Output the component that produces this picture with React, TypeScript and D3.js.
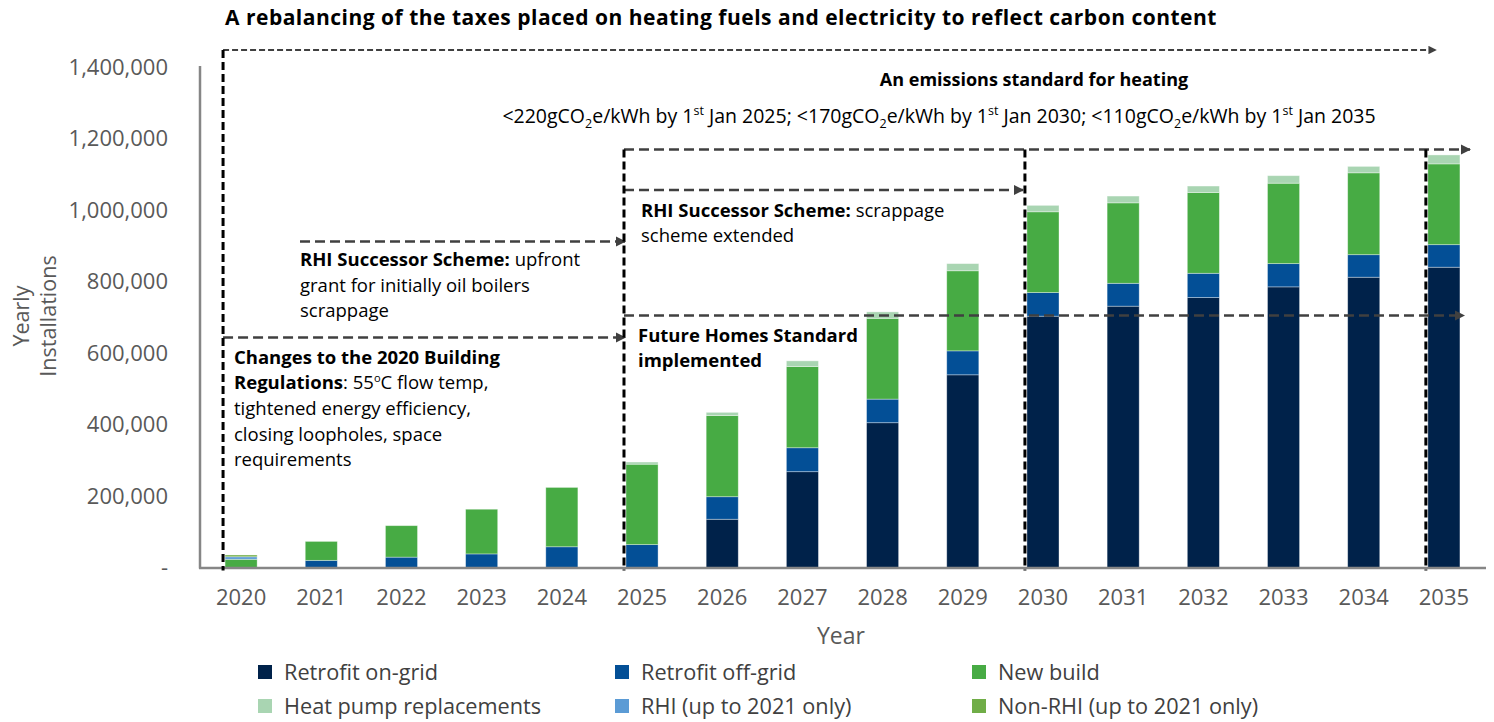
import * as d3 from "d3";
import { useEffect, useRef } from "react";

// data
const years = ["2020", "2021", "2022", "2023", "2024", "2025", "2026", "2027", "2028", "2029", "2030", "2031", "2032", "2033", "2034", "2035"];
const retrofitOnGrid = [0, 0, 0, 0, 0, 0, 135000, 268000, 405000, 539000, 703000, 731000, 755000, 785000, 812000, 840000];
const retrofitOffGrid = [0, 20000, 29000, 38000, 58000, 64000, 63000, 67000, 66000, 67000, 66000, 64000, 68000, 65000, 63000, 63000];
const newBuild = [23000, 53000, 88000, 125000, 166000, 225000, 227000, 227000, 226000, 224000, 226000, 225000, 226000, 225000, 229000, 226000];
const hpReplacements = [0, 0, 0, 0, 0, 6000, 9000, 16000, 18000, 20000, 18000, 19000, 18000, 21000, 18000, 25000];
const rhiOnly = [7000, 0, 0, 0, 0, 0, 0, 0, 0, 0, 0, 0, 0, 0, 0, 0];
const nonRhiOnly = [5000, 0, 0, 0, 0, 0, 0, 0, 0, 0, 0, 0, 0, 0, 0, 0];
const yTicks = [0, 200000, 400000, 600000, 800000, 1000000, 1200000, 1400000];

const seriesNames = ["Retrofit on-grid", "Retrofit off-grid", "New build", "Heat pump replacements", "RHI (up to 2021 only)", "Non-RHI (up to 2021 only)"];
const seriesColors = ["#00224a", "#034f96", "#47ab44", "#a9d5b2", "#5b9bd5", "#70ad47"];

const W = 1494;
const H = 722;
const FONT = "'Open Sans', 'DejaVu Sans', sans-serif";

const App = () => {
  const chartRef = useRef(null);

  useEffect(() => {
    const svg = d3.select(chartRef.current);
    svg.selectAll("*").remove();

    const margin = { top: 67, bottom: 154.5, left: 201, right: 10 };

    const x = d3.scaleBand().domain(years).range([margin.left, 1484]).paddingInner(0.6).paddingOuter(0.3);
    const y = d3.scaleLinear().domain([0, 1400000]).range([H - margin.bottom, margin.top]);

    const rows = years.map((yr, i) => ({
      year: yr,
      s0: retrofitOnGrid[i],
      s1: retrofitOffGrid[i],
      s2: newBuild[i],
      s3: hpReplacements[i],
      s4: rhiOnly[i],
      s5: nonRhiOnly[i],
    }));
    const keys = ["s0", "s1", "s2", "s3", "s4", "s5"];
    const stacked = d3.stack().keys(keys)(rows);

    const defs = svg.append("defs");
    defs.append("marker")
      .attr("id", "arrow")
      .attr("viewBox", "0 0 10 10")
      .attr("refX", 9).attr("refY", 5)
      .attr("markerWidth", 4.2).attr("markerHeight", 4.2)
      .attr("markerUnits", "strokeWidth")
      .attr("orient", "auto")
      .append("path").attr("d", "M0,0L10,5L0,10Z").attr("fill", "#404040");

    // title
    svg.append("text")
      .attr("x", 225).attr("y", 25)
      .attr("font-family", FONT).attr("font-weight", "bold").attr("font-size", 21)
      .attr("letter-spacing", 0.5)
      .attr("fill", "#000")
      .text("A rebalancing of the taxes placed on heating fuels and electricity to reflect carbon content");

    // bars
    svg.append("g").selectAll("g")
      .data(stacked)
      .join("g")
      .attr("fill", (d, i) => seriesColors[i])
      .selectAll("rect")
      .data(d => d.filter(p => p[1] - p[0] > 0))
      .join("rect")
      .attr("x", d => x(d.data.year))
      .attr("width", x.bandwidth())
      .attr("y", d => y(d[1]))
      .attr("height", d => y(d[0]) - y(d[1]))
      .attr("stroke", "rgba(255,255,255,0.45)")
      .attr("stroke-width", 0.8);

    // y axis
    const yAxis = d3.axisLeft(y)
      .tickValues(yTicks)
      .tickSize(0)
      .tickPadding(32)
      .tickFormat(d => (d === 0 ? "- " : d3.format(",")(d)));
    const gy = svg.append("g").attr("transform", `translate(${margin.left - 1},0)`).call(yAxis);
    gy.select(".domain").remove();
    gy.selectAll("text")
      .attr("font-family", FONT).attr("font-size", 22).attr("fill", "#595959");

    // x axis
    const xAxis = d3.axisBottom(x).tickSize(0).tickPadding(22);
    const gx = svg.append("g").attr("transform", `translate(0,${y(0)})`).call(xAxis);
    gx.select(".domain").remove();
    gx.selectAll("text")
      .attr("font-family", FONT).attr("font-size", 22).attr("fill", "#595959");

    // axis lines
    svg.append("line")
      .attr("x1", margin.left - 1).attr("x2", margin.left - 1)
      .attr("y1", y(1400000) - 1).attr("y2", y(0) + 1)
      .attr("stroke", "#868686").attr("stroke-width", 2.5);
    svg.append("line")
      .attr("x1", margin.left - 2).attr("x2", 1486)
      .attr("y1", y(0) + 0.5).attr("y2", y(0) + 0.5)
      .attr("stroke", "#868686").attr("stroke-width", 2.5);

    // axis titles
    svg.append("text")
      .attr("transform", "translate(29,316) rotate(-90)")
      .attr("font-family", FONT).attr("font-size", 21.5).attr("fill", "#595959")
      .attr("text-anchor", "middle").text("Yearly");
    svg.append("text")
      .attr("transform", "translate(56,316) rotate(-90)")
      .attr("font-family", FONT).attr("font-size", 21.5).attr("fill", "#595959")
      .attr("text-anchor", "middle").text("Installations");
    svg.append("text")
      .attr("x", 841).attr("y", 644)
      .attr("font-family", FONT).attr("font-size", 23).attr("fill", "#595959")
      .attr("text-anchor", "middle").text("Year");

    // annotation guides
    const left = (yr) => x(yr) - 2;
    const ann = svg.append("g");
    const vline = (xx, y1) => ann.append("line")
      .attr("x1", xx).attr("x2", xx).attr("y1", y1).attr("y2", y(0) + 3)
      .attr("stroke", "#000").attr("stroke-width", 3).attr("stroke-dasharray", "8,4");
    const arrow = (x1, x2, yy, dash = "10,5", w = 2.5) => ann.append("line")
      .attr("x1", x1).attr("x2", x2).attr("y1", yy).attr("y2", yy)
      .attr("stroke", "#404040").attr("stroke-width", w).attr("stroke-dasharray", dash)
      .attr("marker-end", "url(#arrow)");

    arrow(left("2020"), 1436, 50, "6,3", 2);
    arrow(left("2025"), 1470, 149.5);
    arrow(left("2025"), 1023, 190);
    arrow(300, 625, 241.5);
    arrow(left("2020"), 625, 337.5);
    arrow(left("2025"), 1464, 315.5);
    vline(left("2020"), 50);
    vline(left("2025"), 149.5);
    vline(left("2030"), 149.5);
    vline(left("2035"), 149.5);

    // annotation text
    const addLines = (x0, y0, lines, size = 18.5) => {
      lines.forEach((parts, i) => {
        const t = ann.append("text")
          .attr("x", x0).attr("y", y0 + i * 25.7)
          .attr("font-family", FONT).attr("font-size", size).attr("fill", "#000");
        parts.forEach(p => {
          const ts = t.append("tspan").text(p.t);
          if (p.b) ts.attr("font-weight", "bold");
          if (p.sup) ts.attr("font-size", size * 0.6).attr("dy", -size * 0.38);
          if (p.reset) ts.attr("dy", size * 0.38);
        });
      });
    };

    addLines(300, 266, [
      [{ t: "RHI Successor Scheme:", b: true }, { t: " upfront" }],
      [{ t: "grant for initially oil boilers" }],
      [{ t: "scrappage" }],
    ]);
    addLines(234, 363.5, [
      [{ t: "Changes to the 2020 Building", b: true }],
      [{ t: "Regulations", b: true }, { t: ": 55" }, { t: "o", sup: true }, { t: "C flow temp,", reset: true }],
      [{ t: "tightened energy efficiency," }],
      [{ t: "closing loopholes, space" }],
      [{ t: "requirements" }],
    ]);
    addLines(641, 216.5, [
      [{ t: "RHI Successor Scheme:", b: true }, { t: " scrappage" }],
      [{ t: "scheme extended" }],
    ]);
    addLines(638, 341.5, [
      [{ t: "Future Homes Standard", b: true }],
      [{ t: "implemented", b: true }],
    ]);

    ann.append("text")
      .attr("x", 1034).attr("y", 86)
      .attr("font-family", FONT).attr("font-size", 18).attr("font-weight", "bold")
      .attr("text-anchor", "middle").attr("fill", "#000")
      .text("An emissions standard for heating");

    // emission standard line with sub/superscripts
    const em = ann.append("text")
      .attr("x", 939).attr("y", 123)
      .attr("font-family", FONT).attr("font-size", 19.5).attr("fill", "#000")
      .attr("text-anchor", "middle");
    const emParts = [
      ["<220gCO", 0], ["2", 1], ["e/kWh by 1", -1], ["st", 2], [" Jan 2025; <170gCO", -2],
      ["2", 1], ["e/kWh by 1", -1], ["st", 2], [" Jan 2030; <110gCO", -2],
      ["2", 1], ["e/kWh by 1", -1], ["st", 2], [" Jan 2035", -2],
    ];
    emParts.forEach(([txt, mode]) => {
      const ts = em.append("tspan").text(txt);
      if (mode === 1) ts.attr("font-size", 12.5).attr("dy", 4.5);
      if (mode === -1) ts.attr("dy", -4.5);
      if (mode === 2) ts.attr("font-size", 12.5).attr("dy", -8);
      if (mode === -2) ts.attr("dy", 8);
    });

    // legend
    const legend = svg.append("g");
    const colX = [258, 615, 972];
    seriesNames.forEach((name, i) => {
      const cx = colX[i % 3];
      const cy = i < 3 ? 672 : 706;
      legend.append("rect")
        .attr("x", cx).attr("y", cy - 7).attr("width", 14).attr("height", 14)
        .attr("fill", seriesColors[i]);
      legend.append("text")
        .attr("x", cx + 26).attr("y", cy + 7.5)
        .attr("font-family", FONT).attr("font-size", 21.7).attr("fill", "#404040")
        .text(name);
    });
  }, []);

  return (
    <svg ref={chartRef} width={W} height={H} style={{ position: "absolute", left: 0, top: 0, background: "#fff" }}></svg>
  );
};

export default App;
